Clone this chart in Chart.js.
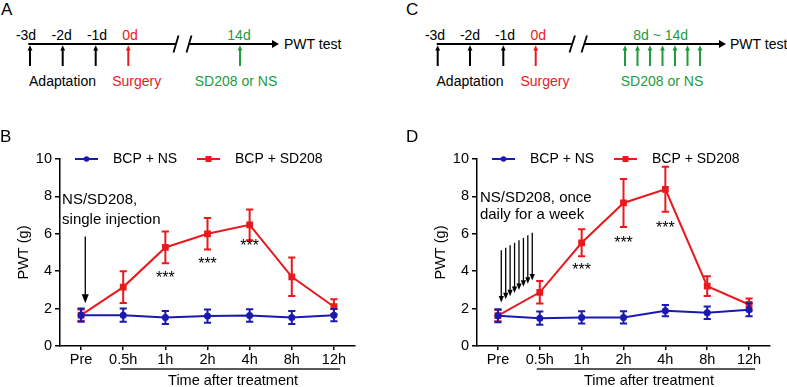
<!DOCTYPE html>
<html><head><meta charset="utf-8">
<script src="https://cdn.jsdelivr.net/npm/chart.js@4.4.1/dist/chart.umd.min.js"></script>
<style>
html,body{margin:0;padding:0;background:#fff;}
#fig{position:relative;width:787px;height:387px;overflow:hidden;font-family:'Liberation Sans',Arial,sans-serif;color:#000;background:#fff;}
.t{position:absolute;white-space:nowrap;line-height:1;font-size:14px;transform:translate(-50%,-50%);}
.l{position:absolute;white-space:nowrap;line-height:1;font-size:14px;transform:translate(0,-50%);}
.p{position:absolute;line-height:1;font-size:17px;}
.cw{position:absolute;top:140px;height:247px;}
</style></head><body>
<div id="fig">
<svg id="tl" width="787" height="130" style="position:absolute;left:0;top:0"></svg>
<div class="cw" style="left:0;width:400px"><canvas id="chartB" width="400" height="247"></canvas></div>
<div class="cw" style="left:417px;width:370px"><canvas id="chartD" width="370" height="247"></canvas></div>
</div>
<script>
// ---------- data ----------
const categories = ['Pre', '0.5h', '1h', '2h', '4h', '8h', '12h'];
const seriesNames = ['BCP + NS', 'BCP + SD208'];
const yTickValues = [0, 2, 4, 6, 8, 10];
const bNS    = [1.65, 1.65, 1.52, 1.60, 1.63, 1.52, 1.65];
const bNSErr = [0.35, 0.35, 0.35, 0.35, 0.33, 0.35, 0.33];
const bSD    = [1.65, 3.15, 5.27, 6.00, 6.48, 3.70, 2.10];
const bSDErr = [0.30, 0.85, 0.85, 0.84, 0.82, 1.03, 0.40];
const dNS    = [1.62, 1.49, 1.53, 1.53, 1.89, 1.78, 1.94];
const dNSErr = [0.35, 0.35, 0.33, 0.33, 0.30, 0.33, 0.35];
const dSD    = [1.62, 2.87, 5.52, 7.65, 8.38, 3.20, 2.22];
const dSDErr = [0.30, 0.60, 0.72, 1.28, 1.20, 0.53, 0.32];
const sigLabels = ['', '', '***', '***', '***', '', ''];
const timelineA = {days:['-3d','-2d','-1d','0d','14d'], events:['Adaptation','Surgery','SD208 or NS'], end:'PWT test'};
const timelineC = {days:['-3d','-2d','-1d','0d','8d ~ 14d'], events:['Adaptation','Surgery','SD208 or NS'], end:'PWT test'};

const BLUE = '#1a1ab0', RED = '#e81a1f', GREEN = '#1f9a3e', BLACK = '#000';

// ---------- timelines (A, C) ----------
const svg = document.getElementById('tl');
const fig = document.getElementById('fig');
const NS = 'http://www.w3.org/2000/svg';
function ln(x1,y1,x2,y2,c,w){const e=document.createElementNS(NS,'line');e.setAttribute('x1',x1);e.setAttribute('y1',y1);e.setAttribute('x2',x2);e.setAttribute('y2',y2);e.setAttribute('stroke',c);e.setAttribute('stroke-width',w);svg.appendChild(e);}
function poly(pts,c){const e=document.createElementNS(NS,'polygon');e.setAttribute('points',pts.map(p=>p.join(',')).join(' '));e.setAttribute('fill',c);svg.appendChild(e);}
function upArrow(x,c){ln(x,66,x,49,c,2);poly([[x-2.4,50.5],[x,45.2],[x+2.4,50.5]],c);}
function txt(s,x,y,cls,color,size){const d=document.createElement('div');d.className=cls;d.textContent=s;d.style.left=x+'px';d.style.top=y+'px';if(color)d.style.color=color;if(size)d.style.fontSize=size+'px';fig.appendChild(d);}

// panel letters
txt('A',1,1,'p');txt('C',406,1,'p');txt('B',0,128,'p');txt('D',406,128,'p');

// A
ln(28.3,44,176,44,BLACK,2);
ln(173.5,52.5,178.5,35.5,BLACK,1.8);ln(186.5,52.5,191.5,35.5,BLACK,1.8);
ln(188.5,44,274,44,BLACK,2);poly([[272,40],[279,44],[272,48]],BLACK);
[30,62.7,95.7].forEach(x=>upArrow(x,BLACK));upArrow(128.3,RED);upArrow(240,GREEN);
txt(timelineA.days[0],26,35,'t');txt(timelineA.days[1],61.7,35,'t');txt(timelineA.days[2],97,35,'t');
txt(timelineA.days[3],130,35,'t',RED);txt(timelineA.days[4],239,35,'t',GREEN);
txt(timelineA.events[0],62.5,81,'t');txt(timelineA.events[1],136.7,81,'t',RED);txt(timelineA.events[2],236,81,'t',GREEN);
txt(timelineA.end,284,44,'l');

// C
ln(436.7,44,572.5,44,BLACK,2);
ln(569.5,52.5,575,35.5,BLACK,1.8);ln(581.5,52.5,587,35.5,BLACK,1.8);
ln(584,44,721,44,BLACK,2);poly([[719,40],[726,44],[719,48]],BLACK);
[437.7,470,503.3].forEach(x=>upArrow(x,BLACK));upArrow(535.7,RED);
[625,637.5,650,662.5,675,687.5,700].forEach(x=>upArrow(x,GREEN));
txt(timelineC.days[0],435,35,'t');txt(timelineC.days[1],470,35,'t');txt(timelineC.days[2],505,35,'t');
txt(timelineC.days[3],538.3,35,'t',RED);txt(timelineC.days[4],660.7,35,'t',GREEN);
txt(timelineC.events[0],470,81,'t');txt(timelineC.events[1],545,81,'t',RED);txt(timelineC.events[2],662,81,'t',GREEN);
txt(timelineC.end,730,44,'l');

// ---------- charts (B, D) ----------
Chart.defaults.font.family = "'Liberation Sans', Arial, sans-serif";
Chart.defaults.color = '#000';

function arrowDown(ctx,x,yTop,yTip,hw,hh){
  ctx.beginPath();ctx.moveTo(x,yTop);ctx.lineTo(x,yTip-hh+1);ctx.stroke();
  ctx.beginPath();ctx.moveTo(x-hw,yTip-hh);ctx.lineTo(x+hw,yTip-hh);ctx.lineTo(x,yTip);ctx.closePath();ctx.fill();
}

const extras = {
  id:'extras',
  afterDatasetDraw(chart,args,o){
    const err = o.errors[args.index], ds = chart.data.datasets[args.index], ys = chart.scales.y, ctx = chart.ctx;
    ctx.save();ctx.strokeStyle = ds.borderColor;ctx.lineWidth = 2;
    args.meta.data.forEach((pt,i)=>{
      const v = ds.data[i], x = pt.x;
      const y1 = ys.getPixelForValue(v+err[i]), y2 = ys.getPixelForValue(v-err[i]);
      ctx.beginPath();ctx.moveTo(x,y1);ctx.lineTo(x,y2);
      ctx.moveTo(x-3.6,y1);ctx.lineTo(x+3.6,y1);ctx.moveTo(x-3.6,y2);ctx.lineTo(x+3.6,y2);ctx.stroke();
    });
    ctx.restore();
  },
  afterDraw(chart,args,o){
    const ctx = chart.ctx, xs = chart.scales.x, ys = chart.scales.y, ca = chart.chartArea;
    ctx.save();
    // legend
    const lx = [15,137], tx = [53,175];
    chart.data.datasets.forEach((ds,i)=>{
      const y = ca.top, x0 = ca.left+lx[i];
      ctx.strokeStyle = ds.borderColor;ctx.fillStyle = ds.borderColor;ctx.lineWidth = 2;
      ctx.beginPath();ctx.moveTo(x0,y);ctx.lineTo(x0+23,y);ctx.stroke();
      if(ds.pointStyle==='rect'){ctx.fillRect(x0+11.5-3,y-3,6,6);} else {ctx.beginPath();ctx.arc(x0+11.5,y,2.8,0,Math.PI*2);ctx.fill();}
      ctx.fillStyle = '#000';ctx.font = "14px 'Liberation Sans', Arial, sans-serif";ctx.textBaseline='middle';ctx.textAlign='left';
      ctx.fillText(ds.label,ca.left+tx[i],y+0.5);
    });
    // significance stars
    ctx.fillStyle = '#000';ctx.font = "16px 'Liberation Sans', Arial, sans-serif";ctx.textAlign='center';ctx.textBaseline='alphabetic';
    sigLabels.forEach((s,i)=>{ if(s) ctx.fillText(s, xs.getPixelForValue(i), ys.getPixelForValue(o.starY[i])+9.5); });
    // annotation text
    ctx.font = "15px 'Liberation Sans', Arial, sans-serif";ctx.textAlign='left';ctx.textBaseline='middle';
    o.note.forEach(n=>ctx.fillText(n.t, xs.getPixelForValue(n.x), ys.getPixelForValue(n.y)));
    // annotation arrows
    ctx.strokeStyle='#000';ctx.fillStyle='#000';ctx.lineWidth=1.3;
    o.arrows.forEach(a=>arrowDown(ctx, xs.getPixelForValue(a.x), ys.getPixelForValue(a.y1), ys.getPixelForValue(a.y2), a.hw, a.hh));
    // x title with underline
    const u1 = xs.getPixelForValue(1)-3, u2 = xs.getPixelForValue(categories.length-1)+6;
    ctx.strokeStyle='#222';ctx.lineWidth=1.3;
    ctx.beginPath();ctx.moveTo(u1,ca.bottom+23);ctx.lineTo(u2,ca.bottom+23);ctx.stroke();
    ctx.fillStyle='#000';ctx.font="14.5px 'Liberation Sans', Arial, sans-serif";ctx.textAlign='center';ctx.textBaseline='middle';
    ctx.fillText(o.xTitle,(u1+u2)/2+3,ca.bottom+35);
    ctx.restore();
  }
};

function makeChart(id, ns, nsErr, sd, sdErr, padRight, cfg){
  return new Chart(document.getElementById(id), {
    type:'line',
    data:{labels:categories, datasets:[
      {label:seriesNames[0], data:ns, borderColor:BLUE, backgroundColor:BLUE, borderWidth:2, pointStyle:'circle', pointRadius:3.5, pointBorderWidth:0, pointBackgroundColor:BLUE, tension:0},
      {label:seriesNames[1], data:sd, borderColor:RED, backgroundColor:RED, borderWidth:2, pointStyle:'rect', pointRadius:4.8, pointBorderWidth:0, pointBackgroundColor:RED, tension:0}
    ]},
    options:{
      responsive:false, animation:false, devicePixelRatio:1,
      layout:{padding:{left:0,right:padRight,top:19,bottom:0}},
      plugins:{legend:{display:false}, tooltip:{enabled:false}, title:{display:false},
        extras:Object.assign({errors:[nsErr,sdErr], xTitle:'Time after treatment'}, cfg)},
      scales:{
        x:{type:'category', offset:true,
           grid:{display:true, drawOnChartArea:false, drawTicks:true, tickLength:4, color:'#000', lineWidth:1.5, offset:false},
           border:{display:true, color:'#000', width:1.5},
           ticks:{font:{size:14.5}, color:'#000', padding:1, maxRotation:0, autoSkip:false},
           afterFit(s){s.height=41;}},
        y:{min:0, max:10,
           afterBuildTicks(s){s.ticks = yTickValues.map(v=>({value:v}));},
           ticks:{font:{size:14.5}, color:'#000', padding:3},
           grid:{drawOnChartArea:false, tickLength:5, color:'#000', lineWidth:1.5},
           border:{display:true, color:'#000', width:1.5},
           title:{display:true, text:'PWT (g)', font:{size:14.5}, color:'#000', padding:{top:15,bottom:0}},
           afterFit(s){s.width=60;}}
      }
    },
    plugins:[extras]
  });
}

makeChart('chartB', bNS, bNSErr, bSD, bSDErr, 45, {
  starY:[0,0,3.9,4.64,5.58,0,0],
  note:[{t:'NS/SD208,',x:-0.45,y:7.81},{t:'single injection',x:-0.45,y:6.74}],
  arrows:[{x:0.1,y1:5.85,y2:2.29,hw:3.5,hh:9}]
});
makeChart('chartD', dNS, dNSErr, dSD, dSDErr, 17, {
  starY:[0,0,4.3,5.75,6.57,0,0],
  note:[{t:'NS/SD208, once',x:-0.43,y:7.93},{t:'daily for a week',x:-0.43,y:7.0}],
  arrows:[
    {x:0.08,y1:5.12,y2:2.33,hw:2.6,hh:6.5},{x:0.186,y1:5.25,y2:2.50,hw:2.6,hh:6.5},
    {x:0.291,y1:5.39,y2:2.66,hw:2.6,hh:6.5},{x:0.397,y1:5.52,y2:2.83,hw:2.6,hh:6.5},
    {x:0.503,y1:5.65,y2:3.00,hw:2.6,hh:6.5},{x:0.609,y1:5.78,y2:3.17,hw:2.6,hh:6.5},
    {x:0.714,y1:5.92,y2:3.33,hw:2.6,hh:6.5},{x:0.82,y1:6.05,y2:3.50,hw:2.6,hh:6.5}
  ]
});
</script>
</body></html>
